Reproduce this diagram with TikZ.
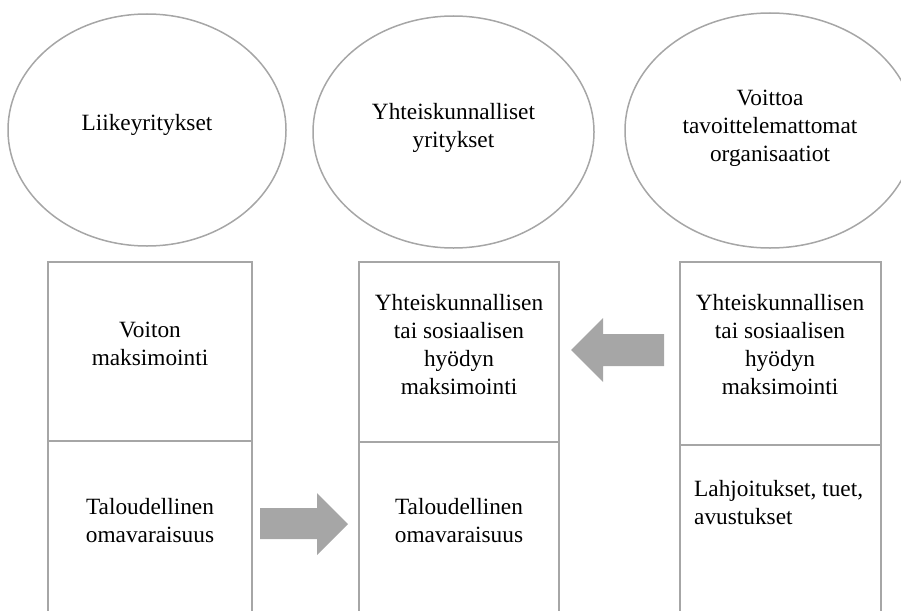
\documentclass[tikz,border=0pt]{standalone}
\usepackage{fontspec}
\setmainfont{Liberation Serif}
\usetikzlibrary{shapes.geometric}
\definecolor{lgray}{HTML}{A6A6A6}
\begin{document}
\begin{tikzpicture}[x=1pt,y=-1pt,
  oval/.style={draw=lgray,line width=1.5pt,ellipse,inner sep=0pt},
  cell/.style={draw=lgray,line width=1.5pt,rectangle,inner sep=0pt},
  txt/.style={font=\fontsize{23.3}{28}\selectfont,align=center,inner sep=0pt},
  blockarrow/.style={fill=lgray,draw=none}]
\useasboundingbox (0,0) rectangle (901,610);
\clip (0,0) rectangle (901,610);
% ellipses
\node[oval,minimum width=278pt,minimum height=232pt] (e1) at (147,130) {};
\node[oval,minimum width=281pt,minimum height=232pt] (e2) at (453.5,132) {};
\node[oval,minimum width=290pt,minimum height=235pt] (e3) at (770,130.5) {};
\node[txt] (t1) at (147,125) {Liikeyritykset};
\node[txt] (t2) at (453.5,127.5) {Yhteiskunnalliset\\yritykset};
\node[txt] (t3) at (770,128) {Voittoa\\tavoittelemattomat\\organisaatiot};
% boxes
\node[cell,minimum width=204pt,minimum height=179pt] (b1t) at (150,351.5) {};
\node[cell,minimum width=204pt,minimum height=190pt] (b1b) at (150,536) {};
\node[cell,minimum width=200pt,minimum height=180pt] (b2t) at (459,352) {};
\node[cell,minimum width=200pt,minimum height=190pt] (b2b) at (459,537) {};
\node[cell,minimum width=201pt,minimum height=183pt] (b3t) at (780.5,353.5) {};
\node[cell,minimum width=201pt,minimum height=190pt] (b3b) at (780.5,540) {};
\node[txt] (v1) at (150,344) {Voiton\\maksimointi};
\node[txt] (v2) at (150,521) {Taloudellinen\\omavaraisuus};
\node[txt] (y1) at (459,345) {Yhteiskunnallisen\\tai sosiaalisen\\hyödyn\\maksimointi};
\node[txt] (y2) at (459,521) {Taloudellinen\\omavaraisuus};
\node[txt] (z1) at (780,345) {Yhteiskunnallisen\\tai sosiaalisen\\hyödyn\\maksimointi};
\node[txt,align=left,anchor=west] (z2) at (694,502.5) {Lahjoitukset, tuet,\\avustukset};
% block arrows
\fill[blockarrow] (260,508) -- (317,508) -- (317,493) -- (348,524) -- (317,555) -- (317,539) -- (260,539) -- cycle;
\fill[blockarrow] (664,334) -- (603,334) -- (603,318) -- (571,350) -- (603,382) -- (603,366) -- (664,366) -- cycle;
\end{tikzpicture}
\end{document}
